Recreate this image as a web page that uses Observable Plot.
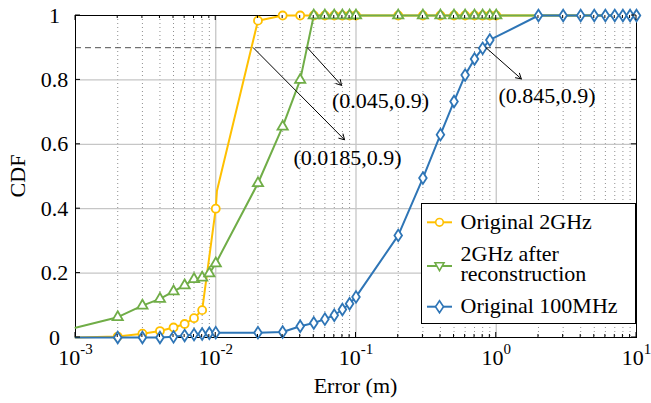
<!DOCTYPE html>
<html>
<head>
<meta charset="utf-8">
<script src="https://cdn.jsdelivr.net/npm/d3@7"></script>
<script src="https://cdn.jsdelivr.net/npm/@observablehq/plot@0.6"></script>
<style>
  body { margin: 0; background: #fff; }
  svg { display: block; }
</style>
</head>
<body>
<div id="chart"></div>
<script>
// ---------- data ----------
const seriesNames = ["Original 2GHz", "2GHz after\nreconstruction", "Original 100MHz"];

// Original 2GHz
const origErr = [0.001, 0.002, 0.003, 0.004, 0.005, 0.006, 0.007, 0.008, 0.01, 0.0102,
  0.02, 0.03, 0.04, 0.05, 0.06, 0.07, 0.08, 0.09, 0.1,
  0.2, 0.3, 0.4, 0.5, 0.6, 0.7, 0.8, 0.9, 1, 2, 3, 4, 5, 6, 7, 8, 9, 10];
const origCdf = [0, 0.003, 0.012, 0.02, 0.031, 0.042, 0.06, 0.085, 0.4, 0.456,
  0.984, 1, 1, 1, 1, 1, 1, 1, 1,
  1, 1, 1, 1, 1, 1, 1, 1, 1, 1, 1, 1, 1, 1, 1, 1, 1, 1];
const origUnmarked = [0.001, 0.0102, 2, 3, 4, 5, 6, 7, 8, 9, 10];

// 2GHz after reconstruction
const reconErr = [0.001, 0.002, 0.003, 0.004, 0.005, 0.006, 0.007, 0.008, 0.009, 0.01,
  0.02, 0.03, 0.04, 0.05, 0.06, 0.07, 0.08, 0.09, 0.1,
  0.2, 0.3, 0.4, 0.5, 0.6, 0.7, 0.8, 0.9, 1, 2, 3, 4, 5, 6, 7, 8, 9, 10];
const reconCdf = [0.03, 0.063, 0.099, 0.12, 0.143, 0.162, 0.181, 0.186, 0.199, 0.23,
  0.479, 0.655, 0.8, 1, 1, 1, 1, 1, 1,
  1, 1, 1, 1, 1, 1, 1, 1, 1, 1, 1, 1, 1, 1, 1, 1, 1, 1];
const reconUnmarked = [0.001, 2, 3, 4, 5, 6, 7, 8, 9, 10];

// Original 100MHz
const lowErr = [0.001, 0.002, 0.003, 0.004, 0.005, 0.006, 0.007, 0.008, 0.009,
  0.01, 0.02, 0.03, 0.04, 0.05, 0.06, 0.07, 0.08, 0.09,
  0.1, 0.2, 0.3, 0.4, 0.5, 0.6, 0.7, 0.8, 0.9,
  2, 3, 4, 5, 6, 7, 8, 9, 10];
const lowCdf = [0, 0, 0, 0, 0.002, 0.006, 0.009, 0.011, 0.013,
  0.015, 0.015, 0.017, 0.035, 0.045, 0.057, 0.069, 0.087, 0.105,
  0.126, 0.317, 0.495, 0.63, 0.733, 0.815, 0.865, 0.898, 0.924,
  1, 1, 1, 1, 1, 1, 1, 1, 1];
const lowUnmarked = [0.001];

// reference level & annotations
const refLevel = 0.9;
const annoLabels = ["(0.0185,0.9)", "(0.045,0.9)", "(0.845,0.9)"];
const annoFromX = [0.0185, 0.045, 0.845];
const annoFromY = [0.9, 0.9, 0.9];

// ticks
const xTicks = [0.001, 0.01, 0.1, 1, 10];
const xTickBase = "10";
const xTickExp = ["-3", "-2", "-1", "0", "1"];
const yTicks = [0, 0.2, 0.4, 0.6, 0.8, 1];
const yTickLabels = ["0", "0.2", "0.4", "0.6", "0.8", "1"];
const xLabel = "Error (m)";
const yLabel = "CDF";

// ---------- layout / style ----------
const font = '"Liberation Serif","Times New Roman",Times,serif';
const colors = ["#FFC000", "#70AD47", "#2E75B6"];
const annoPos = [ // arrow tips and label centres (layout)
  {tx: 0.0829, ty: 0.614, lx: 0.0871, ly: 0.559},
  {tx: 0.0789, ty: 0.783, lx: 0.1498, ly: 0.7355},
  {tx: 1.51, ty: 0.803, lx: 2.30, ly: 0.750}
];

function rows(err, cdf, unmarked) {
  return err.map((e, i) => ({err: e, cdf: cdf[i], marker: !unmarked.includes(e)}));
}
const orig = rows(origErr, origCdf, origUnmarked);
const recon = rows(reconErr, reconCdf, reconUnmarked);
const low = rows(lowErr, lowCdf, lowUnmarked);
const anno = annoLabels.map((l, i) => ({label: l, x1: annoFromX[i], y1: annoFromY[i], ...annoPos[i]}));

const minorX = [];
for (let p = -3; p < 1; p++) for (let k = 2; k <= 9; k++) minorX.push(+(k * 10 ** p).toPrecision(6));

const tallDiamond = {
  draw(ctx, size) {
    const r = Math.sqrt(size / Math.PI);
    const h = r * 1.45, w = r * 0.95;
    ctx.moveTo(0, -h); ctx.lineTo(w, 0); ctx.lineTo(0, h); ctx.lineTo(-w, 0); ctx.closePath();
  }
};

const dotOpts = (c) => ({x: "err", y: "cdf", stroke: c, fill: "white", strokeWidth: 1.8});

const chart = Plot.plot({
  width: 651, height: 403,
  marginLeft: 75, marginRight: 15, marginTop: 15, marginBottom: 66,
  style: {fontFamily: font, fontSize: "22px", background: "white", color: "black", overflow: "visible"},
  x: {type: "log", domain: [0.001, 10], axis: null},
  y: {domain: [0, 1], axis: null},
  marks: [
    Plot.ruleX(minorX, {stroke: "#8f8f8f", strokeWidth: 1, strokeDasharray: "1,3"}),
    Plot.ruleX(xTicks.slice(1, -1), {stroke: "#c6c6c6", strokeWidth: 1.3}),
    Plot.ruleY(yTicks.slice(1, -1), {stroke: "#c6c6c6", strokeWidth: 1.3}),
    Plot.ruleY([refLevel], {stroke: "#505050", strokeWidth: 1, strokeDasharray: "6,4"}),
    Plot.frame({stroke: "black", strokeWidth: 1}),
    Plot.line(orig, {x: "err", y: "cdf", stroke: colors[0], strokeWidth: 2}),
    Plot.dot(orig.filter(d => d.marker), {...dotOpts(colors[0]), r: 4}),
    Plot.line(recon, {x: "err", y: "cdf", stroke: colors[1], strokeWidth: 2}),
    Plot.dot(recon.filter(d => d.marker), {...dotOpts(colors[1]), r: 3.8, symbol: "triangle"}),
    Plot.line(low, {x: "err", y: "cdf", stroke: colors[2], strokeWidth: 2}),
    Plot.dot(low.filter(d => d.marker), {...dotOpts(colors[2]), r: 4, symbol: tallDiamond}),
    Plot.arrow(anno, {x1: "x1", y1: "y1", x2: "tx", y2: "ty", stroke: "black", strokeWidth: 1, headLength: 9}),
    Plot.text(anno, {x: "lx", y: "ly", text: "label", fontSize: 22, fill: "black"}),
    Plot.text(yTicks, {y: d => d, frameAnchor: "left", text: (d, i) => yTickLabels[i], dx: -21, textAnchor: "middle", fontSize: 22, fill: "black"}),
    Plot.text(xTicks, {x: d => d, frameAnchor: "bottom", text: (d, i) => xTickBase + xTickExp[i], dy: 12, lineAnchor: "top", fontSize: 22, fill: "black"})
  ]
});
document.getElementById("chart").appendChild(chart);

// ---------- post-processing: superscripts, ticks, labels, legend ----------
const svg = d3.select(chart);
const tickStrings = xTickExp.map(e => xTickBase + e);
svg.selectAll("text").each(function () {
  const t = d3.select(this);
  const i = tickStrings.indexOf(t.text());
  if (i < 0 || this.querySelector("tspan")) return;
  t.text(xTickBase);
  t.append("tspan").attr("dy", -11).attr("font-size", 15).text(xTickExp[i]);
});

const sx = chart.scale("x"), sy = chart.scale("y");
const X = v => sx.apply(v), Y = v => sy.apply(v);
const x0 = X(0.001), x1 = X(10), yb = Y(0), yt = Y(1);
const tg = svg.append("g").attr("stroke", "black").attr("stroke-width", 1);
for (const v of xTicks) {
  tg.append("line").attr("x1", X(v)).attr("x2", X(v)).attr("y1", yb).attr("y2", yb - 5);
  tg.append("line").attr("x1", X(v)).attr("x2", X(v)).attr("y1", yt).attr("y2", yt + 5);
}
for (const v of minorX) {
  tg.append("line").attr("x1", X(v)).attr("x2", X(v)).attr("y1", yb).attr("y2", yb - 3);
  tg.append("line").attr("x1", X(v)).attr("x2", X(v)).attr("y1", yt).attr("y2", yt + 3);
}
for (const v of yTicks) {
  tg.append("line").attr("x1", x0).attr("x2", x0 + 5).attr("y1", Y(v)).attr("y2", Y(v));
  tg.append("line").attr("x1", x1).attr("x2", x1 - 5).attr("y1", Y(v)).attr("y2", Y(v));
}

svg.append("text").attr("x", (x0 + x1) / 2).attr("y", 393).attr("text-anchor", "middle")
  .attr("font-family", font).attr("font-size", 22).attr("fill", "black").text(xLabel);
svg.append("text").attr("transform", `translate(25,${(yb + yt) / 2}) rotate(-90)`).attr("text-anchor", "middle")
  .attr("font-family", font).attr("font-size", 22).attr("fill", "black").text(yLabel);

// legend
const lg = svg.append("g").attr("font-family", font).attr("font-size", 22).attr("text-anchor", "start");
lg.append("rect").attr("x", 421.5).attr("y", 203.5).attr("width", 214).attr("height", 120)
  .attr("fill", "white").attr("stroke", "black").attr("stroke-width", 1);
const entryY = [222.3, 266, 306.7];
const textBaselines = [[229.3], [261, 281], [312.7]];
const markerPaths = [
  null,
  "M-4.5,-3.2L4.5,-3.2L0,4.6Z",
  "M0,-6L4,0L0,6L-4,0Z"
];
seriesNames.forEach((name, i) => {
  const y = entryY[i];
  lg.append("line").attr("x1", 427).attr("x2", 452).attr("y1", y).attr("y2", y)
    .attr("stroke", colors[i]).attr("stroke-width", 2);
  if (i === 0) {
    lg.append("circle").attr("cx", 439.5).attr("cy", y).attr("r", 3.8)
      .attr("fill", "white").attr("stroke", colors[i]).attr("stroke-width", 1.6);
  } else {
    lg.append("path").attr("d", markerPaths[i]).attr("transform", `translate(439.5,${y})`)
      .attr("fill", "white").attr("stroke", colors[i]).attr("stroke-width", 1.6);
  }
  name.split("\n").forEach((line, j) => {
    lg.append("text").attr("x", 460.5).attr("y", textBaselines[i][j])
      .attr("text-anchor", "start").attr("fill", "black").text(line);
  });
});
</script>
</body>
</html>
